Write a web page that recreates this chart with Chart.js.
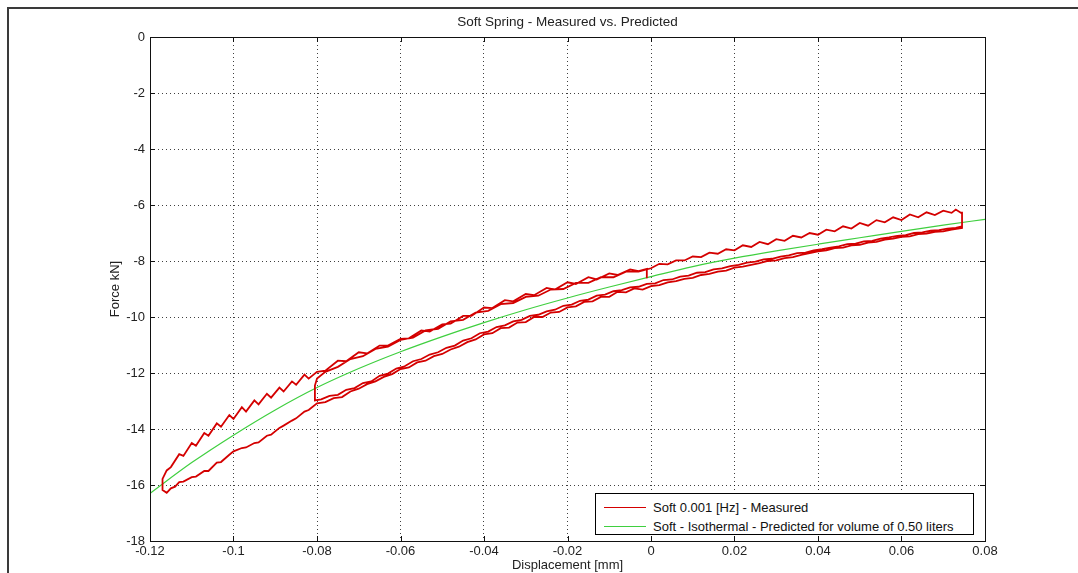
<!DOCTYPE html>
<html>
<head>
<meta charset="utf-8">
<title>Soft Spring - Measured vs. Predicted</title>
<script src="https://cdn.jsdelivr.net/npm/chart.js@4.4.1/dist/chart.umd.min.js"></script>
<style>
  html, body { margin: 0; padding: 0; background: #fff; overflow: hidden; }
  #frame { position: absolute; left: 7px; top: 7px; width: 1200px; height: 700px; border-left: 2px solid #3a3a3a; border-top: 2px solid #3a3a3a; }
  #myChart { position: absolute; left: 0; top: 0; }
  #legend { position: absolute; left: 595px; top: 493px; width: 377px; height: 40px; border: 1px solid #000; background: #fff;
            font: 13px "Liberation Sans", Arial, sans-serif; color: #111; }
  #legend .row { position: absolute; left: 0; height: 15px; line-height: 15px; white-space: nowrap; }
  #legend .swatch { position: absolute; left: 8px; top: 7px; width: 42px; height: 0; border-top: 1px solid; }
  #legend .txt { position: absolute; left: 57px; top: 0; }
</style>
</head>
<body>
<div id="frame"></div>
<canvas id="myChart" width="1078" height="573"></canvas>
<div id="legend"></div>
<script>
// tick labels
const xTicks = [-0.12, -0.1, -0.08, -0.06, -0.04, -0.02, 0, 0.02, 0.04, 0.06, 0.08];
const yTicks = [-18, -16, -14, -12, -10, -8, -6, -4, -2, 0];

// measured loop, [displacement mm, force kN]
// upper branch, first pass, from 0 back to -0.117
const upperOuter = [
  [-0.001,-8.62],[-0.001,-8.28],[-0.003,-8.36],[-0.005,-8.30],[-0.008,-8.50],[-0.010,-8.44],[-0.013,-8.66],[-0.015,-8.58],
  [-0.018,-8.82],[-0.020,-8.76],[-0.023,-9.02],[-0.025,-8.96],[-0.028,-9.22],[-0.030,-9.18],[-0.033,-9.44],[-0.035,-9.40],
  [-0.038,-9.68],[-0.040,-9.66],[-0.043,-9.96],[-0.045,-9.96],[-0.048,-10.24],[-0.050,-10.26],[-0.053,-10.52],[-0.055,-10.48],
  [-0.058,-10.76],[-0.060,-10.78],[-0.063,-11.02],[-0.065,-11.02],[-0.068,-11.30],[-0.070,-11.26],[-0.073,-11.58],[-0.075,-11.56],
  [-0.078,-11.92],[-0.080,-11.96],[-0.082,-12.20],[-0.083,-12.06],[-0.085,-12.42],[-0.086,-12.30],[-0.088,-12.66],[-0.089,-12.52],
  [-0.091,-12.88],[-0.092,-12.74],[-0.094,-13.12],[-0.095,-12.98],[-0.097,-13.38],[-0.098,-13.22],[-0.100,-13.64],[-0.101,-13.50],
  [-0.103,-13.92],[-0.104,-13.80],[-0.106,-14.24],[-0.107,-14.14],[-0.109,-14.60],[-0.110,-14.50],[-0.112,-14.96],[-0.113,-14.90],
  [-0.115,-15.36],[-0.116,-15.48],[-0.117,-15.78]
];
// lower branch, full stroke, from -0.117 up to 0.0745
const lowerOuter = [
  [-0.117,-16.18],[-0.116,-16.28],[-0.115,-16.12],[-0.114,-16.06],[-0.113,-15.90],[-0.112,-15.88],[-0.110,-15.72],[-0.109,-15.70],
  [-0.107,-15.50],[-0.106,-15.50],[-0.104,-15.20],[-0.103,-15.18],[-0.101,-14.92],[-0.100,-14.80],[-0.098,-14.68],[-0.097,-14.66],
  [-0.095,-14.50],[-0.094,-14.48],[-0.092,-14.24],[-0.091,-14.20],[-0.089,-13.96],[-0.088,-13.88],[-0.086,-13.70],[-0.085,-13.62],
  [-0.083,-13.38],[-0.082,-13.32],[-0.080,-13.08],[-0.078,-13.04],[-0.076,-12.90],[-0.074,-12.86],[-0.072,-12.66],[-0.070,-12.56],
  [-0.068,-12.40],[-0.066,-12.30],[-0.064,-12.14],[-0.062,-12.04],[-0.060,-11.86],[-0.058,-11.80],[-0.056,-11.62],[-0.054,-11.56],
  [-0.052,-11.40],[-0.050,-11.32],[-0.048,-11.16],[-0.046,-11.06],[-0.044,-10.90],[-0.042,-10.80],[-0.040,-10.62],[-0.038,-10.58],
  [-0.036,-10.40],[-0.034,-10.38],[-0.032,-10.20],[-0.030,-10.18],[-0.028,-10.00],[-0.026,-10.00],[-0.024,-9.84],[-0.022,-9.82],
  [-0.020,-9.66],[-0.018,-9.62],[-0.016,-9.46],[-0.014,-9.44],[-0.012,-9.28],[-0.010,-9.28],[-0.008,-9.10],[-0.006,-9.12],
  [-0.004,-8.98],[-0.002,-9.02],[0.000,-8.90],[0.002,-8.86],[0.004,-8.76],[0.006,-8.72],[0.008,-8.64],[0.010,-8.60],
  [0.012,-8.50],[0.014,-8.46],[0.016,-8.38],[0.018,-8.34],[0.020,-8.24],[0.022,-8.20],[0.024,-8.14],[0.026,-8.08],
  [0.028,-8.00],[0.030,-7.98],[0.032,-7.90],[0.034,-7.86],[0.036,-7.78],[0.038,-7.72],[0.040,-7.66],[0.042,-7.62],
  [0.044,-7.54],[0.046,-7.52],[0.048,-7.44],[0.050,-7.42],[0.052,-7.34],[0.054,-7.32],[0.056,-7.24],[0.058,-7.20],
  [0.060,-7.14],[0.062,-7.12],[0.064,-7.04],[0.066,-7.02],[0.068,-6.96],[0.070,-6.94],[0.072,-6.88],[0.0745,-6.82]
];
// upper branch, second pass, from 0.0745 back to -0.08
const upperInner = [
  [0.0745,-6.30],[0.073,-6.16],[0.072,-6.28],[0.070,-6.20],[0.068,-6.36],[0.066,-6.26],[0.064,-6.44],[0.062,-6.34],
  [0.060,-6.54],[0.058,-6.44],[0.056,-6.62],[0.054,-6.54],[0.052,-6.74],[0.050,-6.64],[0.048,-6.84],[0.046,-6.76],
  [0.044,-6.94],[0.042,-6.88],[0.040,-7.06],[0.038,-7.00],[0.036,-7.16],[0.034,-7.10],[0.032,-7.28],[0.030,-7.22],
  [0.028,-7.40],[0.026,-7.32],[0.024,-7.50],[0.022,-7.44],[0.020,-7.62],[0.018,-7.58],[0.016,-7.74],[0.014,-7.70],
  [0.012,-7.86],[0.010,-7.84],[0.008,-7.98],[0.006,-7.98],[0.004,-8.12],[0.002,-8.10],[0.000,-8.26],[-0.003,-8.38],
  [-0.006,-8.38],[-0.009,-8.58],[-0.012,-8.58],[-0.015,-8.78],[-0.018,-8.78],[-0.021,-9.00],[-0.024,-9.02],[-0.027,-9.24],
  [-0.030,-9.28],[-0.033,-9.50],[-0.036,-9.54],[-0.039,-9.78],[-0.042,-9.84],[-0.045,-10.10],[-0.048,-10.16],[-0.051,-10.42],
  [-0.054,-10.48],[-0.057,-10.74],[-0.060,-10.82],[-0.063,-11.06],[-0.066,-11.14],[-0.069,-11.40],[-0.072,-11.50],[-0.075,-11.78],
  [-0.078,-11.96],[-0.080,-12.20],[-0.0805,-12.45]
];
// lower branch, second pass, from -0.08 up to 0.0745
const lowerInner = [
  [-0.0805,-12.98],[-0.079,-12.94],[-0.077,-12.82],[-0.075,-12.78],[-0.073,-12.60],[-0.071,-12.54],[-0.069,-12.36],[-0.067,-12.30],
  [-0.065,-12.10],[-0.063,-12.02],[-0.061,-11.84],[-0.059,-11.76],[-0.057,-11.58],[-0.055,-11.50],[-0.053,-11.34],[-0.051,-11.26],
  [-0.049,-11.10],[-0.047,-11.02],[-0.045,-10.84],[-0.043,-10.76],[-0.041,-10.58],[-0.039,-10.52],[-0.037,-10.36],[-0.035,-10.30],
  [-0.033,-10.16],[-0.031,-10.10],[-0.029,-9.96],[-0.027,-9.92],[-0.025,-9.80],[-0.023,-9.74],[-0.021,-9.60],[-0.019,-9.56],
  [-0.017,-9.42],[-0.015,-9.38],[-0.013,-9.24],[-0.011,-9.20],[-0.009,-9.08],[-0.007,-9.04],[-0.005,-8.94],[-0.003,-8.92],
  [-0.001,-8.82],[0.001,-8.80],[0.003,-8.68],[0.005,-8.66],[0.007,-8.56],[0.009,-8.52],[0.011,-8.42],[0.013,-8.40],
  [0.015,-8.30],[0.017,-8.26],[0.019,-8.18],[0.021,-8.14],[0.023,-8.06],[0.025,-8.02],[0.027,-7.94],[0.029,-7.92],
  [0.031,-7.84],[0.033,-7.80],[0.035,-7.72],[0.037,-7.70],[0.039,-7.62],[0.041,-7.58],[0.043,-7.52],[0.045,-7.48],
  [0.047,-7.40],[0.049,-7.38],[0.051,-7.30],[0.053,-7.28],[0.055,-7.20],[0.057,-7.16],[0.059,-7.10],[0.061,-7.08],
  [0.063,-7.00],[0.065,-6.98],[0.067,-6.92],[0.069,-6.90],[0.071,-6.84],[0.073,-6.82],[0.0745,-6.76],[0.0745,-6.24]
];

// isothermal prediction
const predictedDisp = [-0.12, -0.11, -0.10, -0.09, -0.08, -0.07, -0.06, -0.05, -0.04, -0.03, -0.02,
                       -0.01, 0, 0.01, 0.02, 0.03, 0.04, 0.05, 0.06, 0.07, 0.08];
const predictedForce = [-16.3, -15.2, -14.22, -13.32, -12.52, -11.84, -11.24, -10.7, -10.2, -9.74, -9.32,
                        -8.93, -8.56, -8.2, -7.9, -7.64, -7.4, -7.17, -6.94, -6.72, -6.51];

const measured = [].concat(upperOuter, lowerOuter, upperInner, lowerInner).map(p => ({x: p[0], y: p[1]}));
const predicted = predictedDisp.map((d, i) => ({x: d, y: predictedForce[i]}));

const fontFamily = '"Liberation Sans", Arial, sans-serif';
Chart.defaults.font.family = fontFamily;
Chart.defaults.font.size = 13;
Chart.defaults.color = '#222';

// box round the axes and MATLAB style inward ticks
const boxTicks = {
  id: 'boxTicks',
  afterDatasetsDraw(chart) {
    const {ctx, chartArea: a, scales: {x, y}} = chart;
    ctx.save();
    ctx.strokeStyle = '#111';
    ctx.lineWidth = 1;
    ctx.strokeRect(a.left + 0.5, a.top + 0.5, a.width, a.height);
    ctx.beginPath();
    x.ticks.forEach(t => {
      const px = Math.round(x.getPixelForValue(t.value)) + 0.5;
      ctx.moveTo(px, a.bottom); ctx.lineTo(px, a.bottom - 5);
      ctx.moveTo(px, a.top); ctx.lineTo(px, a.top + 5);
    });
    y.ticks.forEach(t => {
      const py = Math.round(y.getPixelForValue(t.value)) + 0.5;
      ctx.moveTo(a.left, py); ctx.lineTo(a.left + 5, py);
      ctx.moveTo(a.right, py); ctx.lineTo(a.right - 5, py);
    });
    ctx.stroke();
    ctx.restore();
  }
};

const ctx = document.getElementById('myChart');

var chart = new Chart(ctx, {
  type: 'scatter',
  data: {
    datasets: [{
      label: 'Soft 0.001 [Hz] - Measured',
      data: measured,
      showLine: true,
      pointRadius: 0,
      borderWidth: 1.8,
      borderColor: '#d40000',
      backgroundColor: '#d40000',
      tension: 0
    },
    {
      label: 'Soft - Isothermal - Predicted for volume of 0.50 liters',
      data: predicted,
      showLine: true,
      pointRadius: 0,
      borderWidth: 1.2,
      borderColor: '#3fcf3f',
      backgroundColor: '#3fcf3f',
      cubicInterpolationMode: 'monotone'
    }]
  },
  options: {
    responsive: false,
    animation: false,
    devicePixelRatio: 1,
    layout: { padding: { left: 0, right: 93, top: 0, bottom: 0 } },
    plugins: {
      legend: { display: false },
      tooltip: { enabled: false },
      title: {
        display: true,
        text: 'Soft Spring - Measured vs. Predicted',
        fullSize: false,
        font: { size: 13.5, weight: 'normal' },
        color: '#222',
        padding: { top: 13.9, bottom: 6.9 }
      }
    },
    scales: {
      x: {
        type: 'linear',
        min: -0.12,
        max: 0.08,
        afterBuildTicks: s => { s.ticks = xTicks.map(v => ({value: v})); },
        afterFit: s => { s.height = 32; },
        ticks: { padding: 3, autoSkip: false, maxRotation: 0, callback: v => String(+v.toFixed(2)) },
        grid: { color: 'rgba(0,0,0,0.75)', lineWidth: 1, drawTicks: false },
        border: { display: false, dash: [1, 3] },
        title: { display: true, text: 'Displacement [mm]', padding: 0 }
      },
      y: {
        type: 'linear',
        min: -18,
        max: 0,
        afterBuildTicks: s => { s.ticks = yTicks.map(v => ({value: v})); },
        afterFit: s => { s.width = 150; },
        ticks: { padding: 5, autoSkip: false, callback: v => String(v) },
        grid: { color: 'rgba(0,0,0,0.75)', lineWidth: 1, drawTicks: false },
        border: { display: false, dash: [1, 3] },
        title: { display: true, text: 'Force kN]', padding: { top: 107.2 } }
      }
    }
  },
  plugins: [boxTicks]
});

// legend box inside the axes, lower right
var legendBox = document.getElementById('legend');
chart.data.datasets.forEach(function(ds, i) {
  var row = document.createElement('div');
  row.className = 'row';
  row.style.top = (6 + i * 19) + 'px';
  row.style.width = '100%';
  row.innerHTML = '<span class="swatch" style="border-color:' + ds.borderColor + '"></span><span class="txt"></span>';
  row.querySelector('.txt').textContent = ds.label;
  legendBox.appendChild(row);
});
</script>
</body>
</html>
